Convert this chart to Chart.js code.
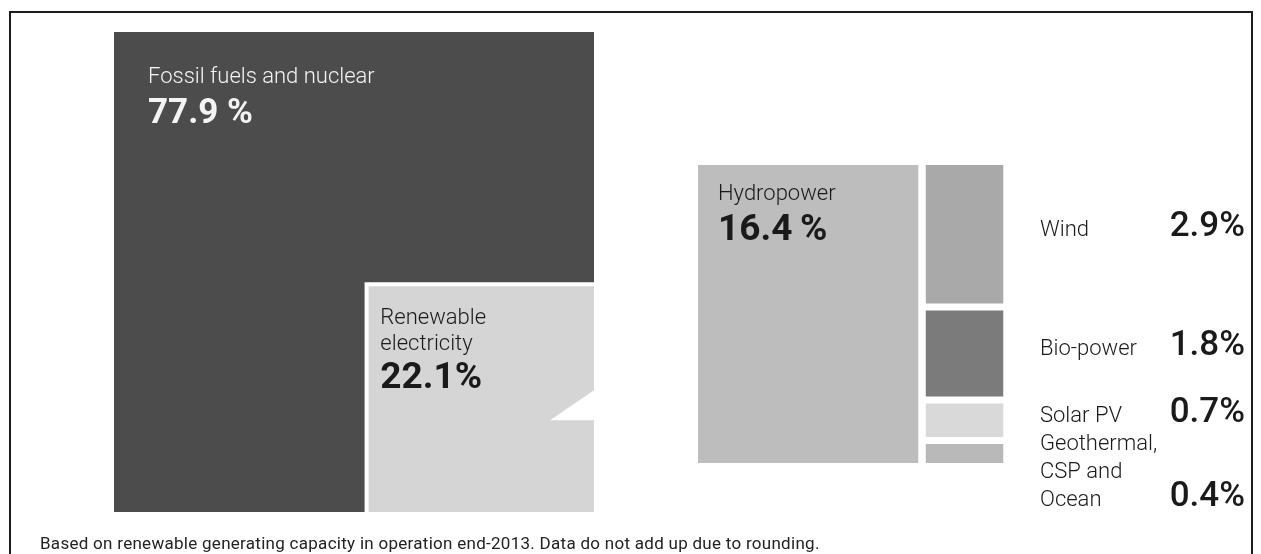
<!DOCTYPE html>
<html><head><meta charset="utf-8">
<script src="https://cdn.jsdelivr.net/npm/chart.js@4.4.1/dist/chart.umd.min.js"></script>
<style>html,body{margin:0;padding:0;background:#fff;}canvas{display:block;}</style>
</head><body>
<canvas id="c" width="1261" height="554"></canvas>
<script>
// ---- data ----
const shareLabels = [['Fossil fuels and nuclear'], ['Renewable', 'electricity']];
const shareValues = [77.9, 22.1];
const renewLabels = [['Hydropower'], ['Wind'], ['Bio-power'], ['Solar PV'], ['Geothermal,', 'CSP and', 'Ocean']];
const renewValues = [16.4, 2.9, 1.8, 0.7, 0.4];
const footnote = 'Based on renewable generating capacity in operation end-2013. Data do not add up due to rounding.';

// ---- style / layout ----
const shareColors = ['#4c4c4c', '#d5d5d5'];
const renewColors = ['#bdbdbd', '#a9a9a9', '#7b7b7b', '#d9d9d9', '#b9b9b9'];
const FONT = 'Roboto, "Liberation Sans", sans-serif';
const PX = 48, LEFT = 114, TOP = 32, CW = 1261, CH = 554;
const BORDER = 4 / PX;
const PANEL_X = (698 - LEFT) / PX, PANEL_Y = (165 - TOP) / PX, PANEL_H = 298 / PX, ZOOM2 = 1.78, GAP = 7 / PX;

// ---- treemap layout (in value units: 1 unit^2 = 1 %) ----
const total = shareValues[0] + shareValues[1];
const sideBig = Math.sqrt(total);
const sideRen = Math.sqrt(shareValues[1]);
const fossilR = {x0: 0, y0: 0, x1: sideBig, y1: sideBig};
const renewR = {x0: sideBig - sideRen, y0: sideBig - sideRen, x1: sideBig, y1: sideBig};
const renewBorderR = {x0: renewR.x0 - BORDER, y0: renewR.y0 - BORDER, x1: sideBig, y1: sideBig};

const totalR = renewValues.reduce((a, b) => a + b, 0);
const restR = totalR - renewValues[0];
const PANEL_W = totalR * ZOOM2 / PANEL_H;
const hydroW = (PANEL_W - GAP) * renewValues[0] / totalR;
const subRects = [{x0: PANEL_X, y0: PANEL_Y, x1: PANEL_X + hydroW, y1: PANEL_Y + PANEL_H}];
{
  const cx0 = PANEL_X + hydroW + GAP, cx1 = PANEL_X + PANEL_W;
  const n = renewValues.length - 1;
  const avail = PANEL_H - GAP * (n - 1);
  let y = PANEL_Y;
  for (let i = 1; i < renewValues.length; i++) {
    const h = avail * renewValues[i] / restR;
    subRects.push({x0: cx0, y0: y, x1: cx1, y1: y + h});
    y += h + GAP;
  }
}

function rectDataset(r, color, order) {
  return {
    data: [{x: r.x0, y: r.y0}, {x: r.x1, y: r.y0}],
    fill: {value: r.y1}, backgroundColor: color, borderWidth: 0, borderColor: 'rgba(0,0,0,0)',
    pointRadius: 0, pointHoverRadius: 0, tension: 0, order: order
  };
}
const datasets = [
  rectDataset(fossilR, shareColors[0], 10),
  rectDataset(renewBorderR, '#ffffff', 9),
  rectDataset(renewR, shareColors[1], 8)
];
subRects.forEach((r, i) => datasets.push(rectDataset(r, renewColors[i], 5)));

function fmt(v, sp) { return v.toFixed(1) + (sp ? sp + '%' : '%'); }

const labelPlugin = {
  id: 'labels',
  beforeDraw(chart) {
    const c = chart.ctx;
    c.save(); c.fillStyle = '#fff'; c.fillRect(0, 0, CW, CH);
    c.strokeStyle = '#1c1c1c'; c.lineWidth = 2;
    c.strokeRect(10, 12, 1242, 560);
    c.restore();
  },
  afterDatasetsDraw(chart) {
    const c = chart.ctx, xs = chart.scales.x, ys = chart.scales.y;
    const px = r => ({l: xs.getPixelForValue(r.x0), t: ys.getPixelForValue(r.y0), r: xs.getPixelForValue(r.x1), b: ys.getPixelForValue(r.y1)});
    c.save();
    c.textBaseline = 'alphabetic';
    // white wedge pointer on renewable square
    const rb = px(renewBorderR);
    c.fillStyle = '#fff';
    c.beginPath();
    c.moveTo(rb.r, rb.t + 108); c.lineTo(rb.r, rb.t + 138); c.lineTo(rb.r - 44, rb.t + 138); c.closePath(); c.fill();

    // fossil
    const f = px(fossilR);
    c.fillStyle = '#f4f4f4';
    c.font = '300 22px ' + FONT;
    c.fillText(shareLabels[0][0], f.l + 34, f.t + 51);
    c.font = '700 35px ' + FONT;
    c.fillText(fmt(shareValues[0], ' '), f.l + 34, f.t + 91);

    // renewable
    c.fillStyle = '#1a1a1a';
    c.font = '300 22px ' + FONT;
    shareLabels[1].forEach((t, i) => c.fillText(t, rb.l + 16, rb.t + 42 + i * 26));
    c.font = '700 37px ' + FONT;
    c.fillText(fmt(shareValues[1], ''), rb.l + 16, rb.t + 106);

    // hydro
    const h = px(subRects[0]);
    c.font = '300 22px ' + FONT;
    c.fillText(renewLabels[0][0], h.l + 20, h.t + 35);
    c.font = '700 37px ' + FONT;
    c.fillText(fmt(renewValues[0], '\u2009'), h.l + 20, h.t + 75);

    // side legend
    let prev = -Infinity;
    const LH = 28;
    for (let i = 1; i < renewValues.length; i++) {
      const r = px(subRects[i]);
      const lines = renewLabels[i];
      const center = (r.t + r.b) / 2 + 2;
      const first = Math.max(center - (lines.length - 1) * LH / 2, prev + LH);
      c.font = '300 22px ' + FONT;
      c.textAlign = 'left';
      lines.forEach((t, k) => c.fillText(t, 1040, first + k * LH));
      const last = first + (lines.length - 1) * LH;
      c.font = '500 35px ' + FONT;
      c.textAlign = 'right';
      c.fillText(fmt(renewValues[i], ''), 1245, last);
      prev = last;
    }
    // footnote
    c.textAlign = 'left';
    c.font = '400 17px ' + FONT;
    c.letterSpacing = '0.28px';
    c.fillStyle = '#222';
    c.fillText(footnote, 40, 549);
    c.restore();
  }
};

new Chart(document.getElementById('c'), {
  type: 'line',
  data: {datasets},
  options: {
    responsive: false, animation: false, events: [], devicePixelRatio: 1,
    layout: {padding: 0},
    scales: {
      x: {type: 'linear', display: false, min: -LEFT / PX, max: (CW - LEFT) / PX},
      y: {type: 'linear', display: false, reverse: true, min: -TOP / PX, max: (CH - TOP) / PX}
    },
    plugins: {legend: {display: false}, tooltip: {enabled: false}}
  },
  plugins: [labelPlugin]
});
</script>
</body></html>
